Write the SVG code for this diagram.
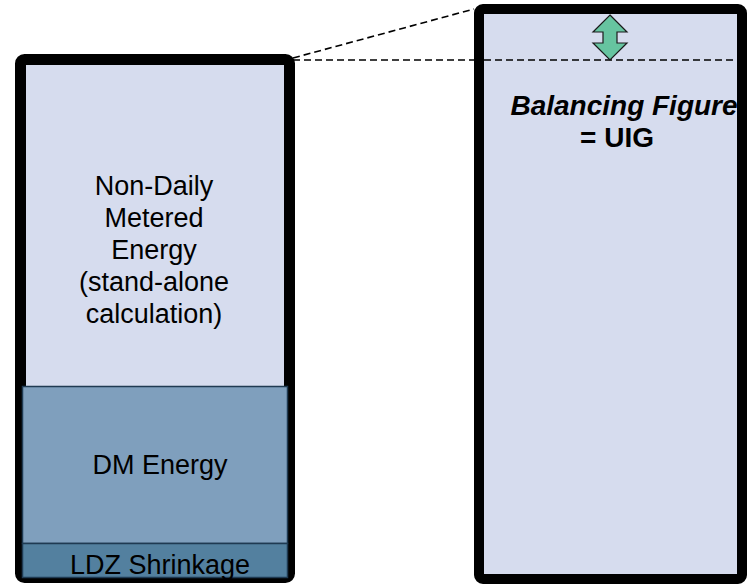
<svg xmlns="http://www.w3.org/2000/svg" width="753" height="586" viewBox="0 0 753 586">
<style>
.lbl{font-family:"Liberation Sans",Arial,sans-serif;font-size:27px;fill:#000;text-anchor:middle}
.b{font-weight:bold;font-size:28px}
.dash{stroke:#000;stroke-width:1.6;stroke-dasharray:7 4;fill:none}
</style>
<rect width="753" height="586" fill="#fff"/>
<g id="connectors">
<line class="dash" x1="293" y1="58" x2="474" y2="9"/>
<line class="dash" x1="293" y1="60" x2="742" y2="60"/>
</g>
<g id="left-stack">
<rect x="20.5" y="59.5" width="269" height="518" rx="4" fill="#d6dcee" stroke="#000" stroke-width="11"/>
<g id="ndm-energy">
<text class="lbl" x="154" y="195">Non-Daily</text>
<text class="lbl" x="154" y="227">Metered</text>
<text class="lbl" x="154" y="259">Energy</text>
<text class="lbl" x="154" y="291">(stand-alone</text>
<text class="lbl" x="154" y="323">calculation)</text>
</g>
<g id="dm-energy">
<rect x="22.5" y="386.5" width="265" height="157" fill="#7f9fbd" stroke="#1f3a52" stroke-width="1.5"/>
<text class="lbl" x="160" y="474">DM Energy</text>
</g>
<g id="ldz-shrinkage">
<rect x="22.5" y="543.5" width="265" height="34" fill="#53809f" stroke="#1f3a52" stroke-width="1.5"/>
<text class="lbl" x="160" y="574">LDZ Shrinkage</text>
</g>
</g>
<g id="right-stack">
<rect x="479" y="9" width="263" height="570" rx="4" fill="#d6dcee" stroke="#000" stroke-width="10"/>
<line class="dash" x1="484" y1="60" x2="742" y2="60"/>
<text class="lbl b" x="624" y="115" font-style="italic">Balancing Figure</text>
<text class="lbl b" x="617" y="147">= UIG</text>
</g>
<g id="uig-arrow">
<path d="M610,15 L627,32 L617,32 L617,43 L627,43 L610,60 L593,43 L603,43 L603,32 L593,32 Z" fill="#66c4a0" stroke="#1a1a1a" stroke-width="1.2" stroke-linejoin="miter"/>
</g>
</svg>
